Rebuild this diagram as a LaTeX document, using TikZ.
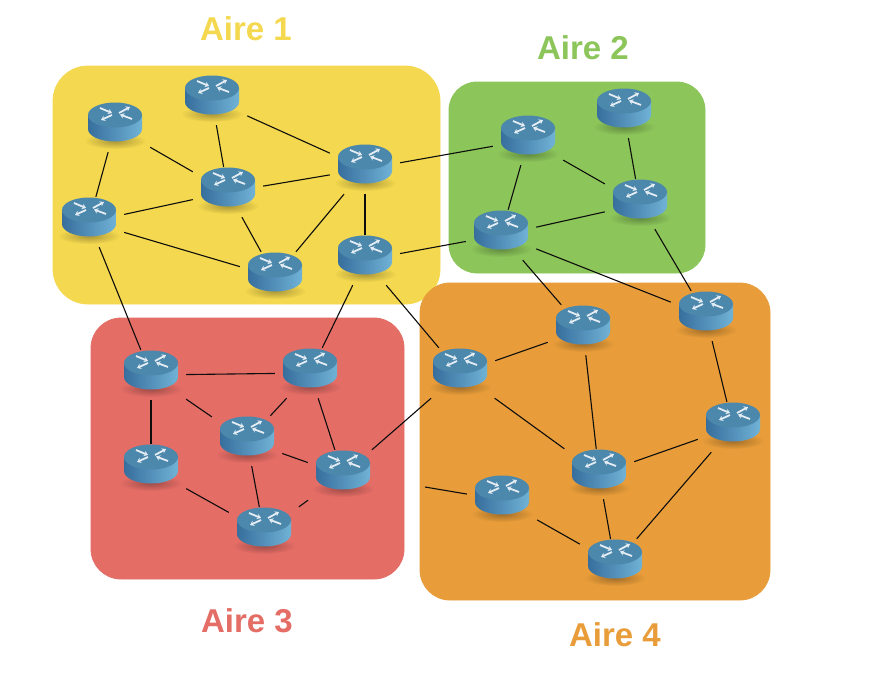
\documentclass[tikz,border=0pt]{standalone}
\usepackage{fontspec}
\setmainfont{Liberation Sans}
\usetikzlibrary{fadings,arrows.meta}
\definecolor{yellowarea}{HTML}{F4D84F}
\definecolor{greenarea}{HTML}{8CC55A}
\definecolor{redarea}{HTML}{E46D66}
\definecolor{orangearea}{HTML}{E89D3A}
\definecolor{routerdark}{HTML}{376E9D}
\definecolor{routerlight}{HTML}{70B2D6}
\definecolor{routertop}{HTML}{4C87AC}
\tikzset{area/.style={draw=black!18,line width=0.8pt},
	arealabel/.style={font=\fontsize{33}{33}\selectfont\bfseries,inner sep=0pt},
	link/.style={line width=1.1pt,black!90!gray},
	routerzone/.style={rectangle,minimum width=70pt,minimum height=50pt,inner sep=0pt},
	routermark/.style={white!85!routertop,line width=1.8pt,-{Stealth[length=4pt,width=5.5pt]}}}
\newcommand{\router}[3]{
	\begin{scope}[shift={(#2,#3)}]
		\fill[black,opacity=0.3,path fading=fuzzyspot] (0,19) ellipse [x radius=31,y radius=8];
		\shade[left color=routerdark,right color=routerlight] (-27,-7) -- (-27,7) .. controls (-27,14) and (-15,19.5) .. (0,19.5) .. controls (15,19.5) and (27,14) .. (27,7) -- (27,-7) -- cycle;
		\fill[routertop] (0,-7) ellipse [x radius=27,y radius=12.5];
		\draw[routermark] (-15,-14) -- (-3,-9);
		\draw[routermark] (-3,-7) -- (-14,-2);
		\draw[routermark] (4,-9) -- (15,-15);
		\draw[routermark] (17,-3) -- (5,-7.5);
	\end{scope}
	\node[routerzone] (#1) at (#2,#3+5) {};
}
\tikzfading[name=fuzzyspot,inner color=transparent!0,outer color=transparent!100]
\begin{document}
\begin{tikzpicture}[x=1pt,y=-1pt]
\useasboundingbox (0,0) rectangle (874,680);
\fill[area,yellowarea] (53,66) [rounded corners=35pt] rectangle (440,304);
\fill[area,greenarea] (449,82) [rounded corners=28pt] rectangle (705,273);
\fill[area,redarea] (91,318) [rounded corners=30pt] rectangle (404,579);
\fill[area,orangearea] (420,283) [rounded corners=30pt] rectangle (770,600);
\node[arealabel,yellowarea] (aire1) at (246,29) {Aire 1};
\node[arealabel,greenarea] (aire2) at (583,48) {Aire 2};
\node[arealabel,redarea] (aire3) at (247,621) {Aire 3};
\node[arealabel,orangearea] (aire4) at (615,635) {Aire 4};
\router{a1}{115}{122}
\router{a2}{212}{95}
\router{a3}{228}{187}
\router{a4}{89}{217}
\router{a5}{365}{164}
\router{a6}{275}{272}
\router{a7}{365}{255}
\router{b1}{528}{135}
\router{b2}{624}{108}
\router{b3}{640}{199}
\router{b4}{501}{230}
\router{c1}{151}{370}
\router{c2}{310}{368}
\router{c3}{247}{436}
\router{c4}{151}{464}
\router{c5}{343}{470}
\router{c6}{264}{527}
\router{d1}{460}{368}
\router{d2}{583}{325}
\router{d3}{706}{311}
\router{d4}{733}{422}
\router{d5}{599}{469}
\router{d6}{502}{495}
\router{d7}{615}{559}
\coordinate (d6end) at (425,487);
\foreach \from/\to in {a1/a4,a1/a3,a2/a3,a2/a5,a3/a5,a3/a4,a3/a6,a4/a6,a4/c1,a5/a6,a5/a7,a5/b1,a7/b4,a7/c2,a7/d1,
	b1/b3,b1/b4,b2/b3,b3/b4,b3/d3,b4/d2,b4/d3,
	c1/c2,c1/c3,c1/c4,c2/c3,c2/c5,c3/c5,c3/c6,c4/c6,c5/c6,c5/d1,
	d1/d2,d1/d5,d2/d5,d3/d4,d4/d5,d4/d7,d5/d7,d6/d7,d6/d6end}
	\draw[link] (\from) -- (\to);
\end{tikzpicture}
\end{document}
